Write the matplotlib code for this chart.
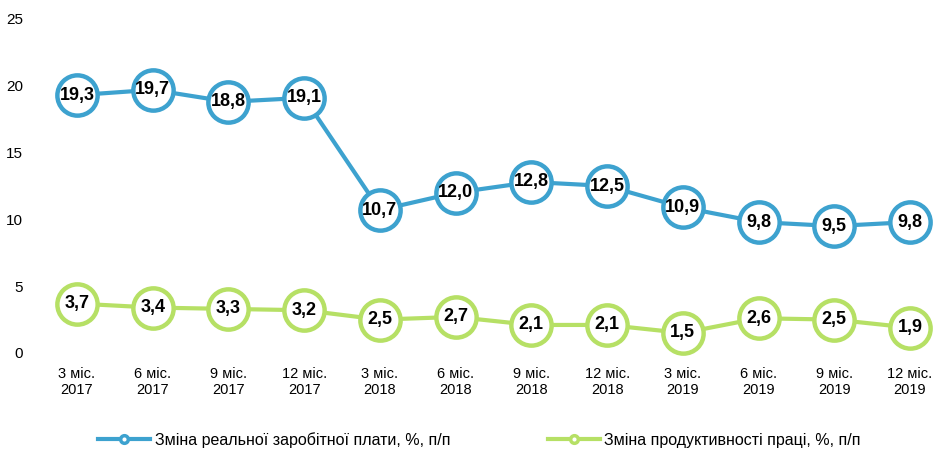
import numpy as np
import matplotlib.pyplot as plt

periods = ['3 міс.\n2017', '6 міс.\n2017', '9 міс.\n2017', '12 міс.\n2017',
           '3 міс.\n2018', '6 міс.\n2018', '9 міс.\n2018', '12 міс.\n2018',
           '3 міс.\n2019', '6 міс.\n2019', '9 міс.\n2019', '12 міс.\n2019']
wages = [19.3, 19.7, 18.8, 19.1, 10.7, 12.0, 12.8, 12.5, 10.9, 9.8, 9.5, 9.8]
productivity = [3.7, 3.4, 3.3, 3.2, 2.5, 2.7, 2.1, 2.1, 1.5, 2.6, 2.5, 1.9]
yticks = [0, 5, 10, 15, 20, 25]

blue = '#3da2cf'
green = '#b6e065'

plt.rcParams['font.family'] = ['Liberation Sans', 'DejaVu Sans']

fig = plt.figure(figsize=(9.34, 4.49), dpi=100)
ax = fig.add_axes([40 / 934, 96 / 449, 894 / 934, 334 / 449])

x = np.arange(len(periods))
series = [(wages, blue, 'Зміна реальної заробітної плати, %, п/п'),
          (productivity, green, 'Зміна продуктивності праці, %, п/п')]

for vals, col, lab in series:
    ax.plot(x, vals, color=col, lw=3, marker='o', ms=29, mew=3.2,
            mfc='white', mec=col, clip_on=False, zorder=3)
    for xi, v in zip(x, vals):
        ax.text(xi, v, f'{v:.1f}'.replace('.', ','), ha='center', va='center',
                fontsize=13, fontweight='bold', zorder=5)

step = (910 - 77) / 11
ax.set_xlim((40 - 77) / step, (934 - 77) / step)
ax.set_ylim(0, 25)
ax.set_xticks(x)
ax.set_xticklabels(periods, fontsize=10.5)
ax.set_yticks(yticks)
ax.set_yticklabels([str(t) for t in yticks], fontsize=11)
ax.tick_params(axis='both', length=0)
ax.tick_params(axis='y', pad=12)
ax.tick_params(axis='x', pad=10)
for s in ax.spines.values():
    s.set_visible(False)

leg_handles = []
for vals, col, lab in series:
    h, = ax.plot([], [], color=col, lw=3, marker='o', ms=5.5, mew=2.5,
                 mfc='white', mec=col, label=lab)
    leg_handles.append(h)
fig.legend(handles=leg_handles, loc='center left', bbox_to_anchor=(98 / 934, 1 - 440 / 449),
           ncol=2, frameon=False, borderpad=0, borderaxespad=0, handlelength=3.25,
           columnspacing=6.1, handletextpad=0.3, prop={'size': 11.5})

fig.savefig('out.png', dpi=100)
